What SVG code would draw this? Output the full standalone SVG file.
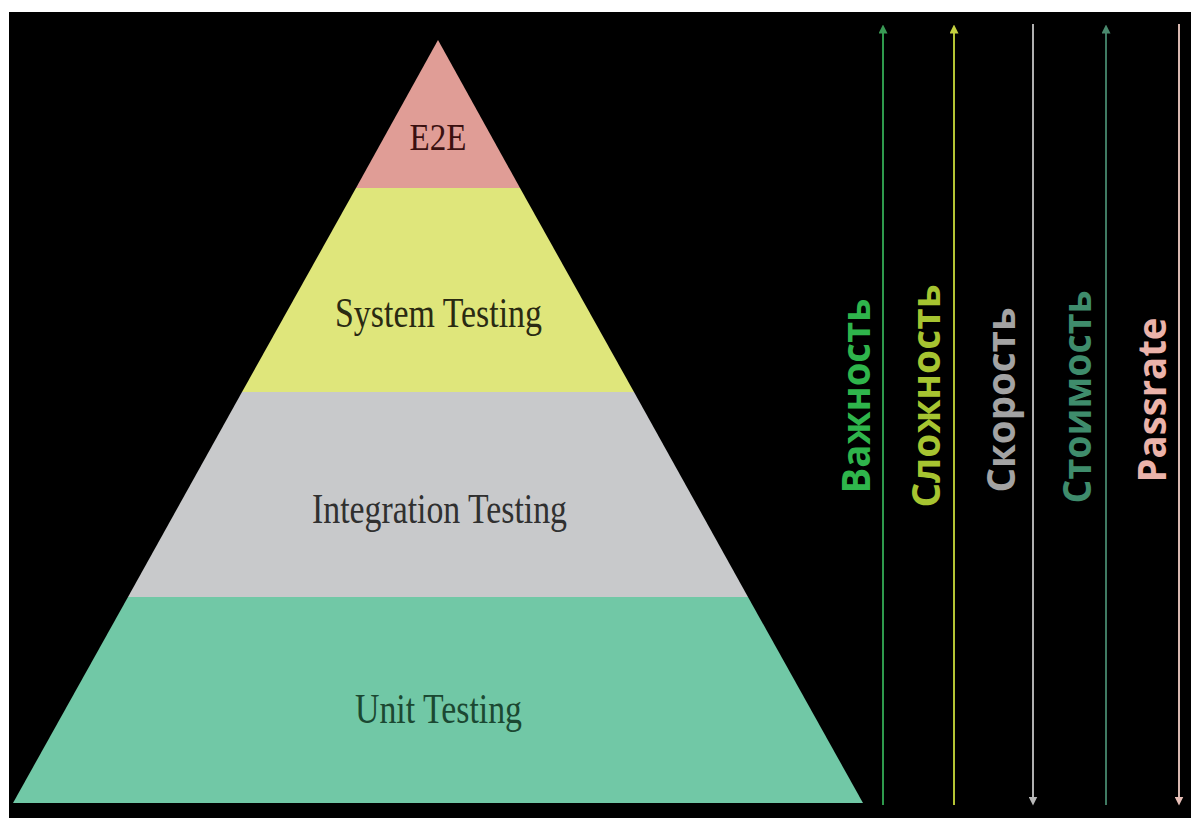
<svg xmlns="http://www.w3.org/2000/svg" width="1191" height="818" viewBox="0 0 1191 818">
  <style>
    .lvl { font-family: "Liberation Serif", "Times New Roman", serif; text-anchor: middle; }
    .axl { font-family: "Open Sans", "DejaVu Sans", sans-serif; font-weight: bold; font-size: 40px; text-anchor: middle; }
    .ax { stroke-width: 2; fill: none; }
  </style>
  <defs>
    <marker id="hGreen" viewBox="0 0 10 10" refX="5" refY="5" markerWidth="4.5" markerHeight="4.5" orient="auto-start-reverse"><path d="M0,0 L10,5 L0,10 z" fill="#3a9a55"/></marker>
    <marker id="hYellow" viewBox="0 0 10 10" refX="5" refY="5" markerWidth="4.5" markerHeight="4.5" orient="auto-start-reverse"><path d="M0,0 L10,5 L0,10 z" fill="#c4d040"/></marker>
    <marker id="hGray" viewBox="0 0 10 10" refX="5" refY="5" markerWidth="4.5" markerHeight="4.5" orient="auto-start-reverse"><path d="M0,0 L10,5 L0,10 z" fill="#b8b8b8"/></marker>
    <marker id="hTeal" viewBox="0 0 10 10" refX="5" refY="5" markerWidth="4.5" markerHeight="4.5" orient="auto-start-reverse"><path d="M0,0 L10,5 L0,10 z" fill="#4a8a6e"/></marker>
    <marker id="hPink" viewBox="0 0 10 10" refX="5" refY="5" markerWidth="4.5" markerHeight="4.5" orient="auto-start-reverse"><path d="M0,0 L10,5 L0,10 z" fill="#e8c0b8"/></marker>
  </defs>
  <rect x="0" y="0" width="1191" height="818" fill="#ffffff"/>
  <rect x="9" y="12" width="1182" height="806" fill="#000000"/>

  <g id="e2e">
    <polygon points="438,40 520,188 356,188" fill="#e09d96"/>
    <text class="lvl" x="438" y="150" font-size="38" textLength="57" lengthAdjust="spacingAndGlyphs" fill="#3a1010">E2E</text>
  </g>
  <g id="system-testing">
    <polygon points="356,188 520,188 634,392 242,392" fill="#dfe67b"/>
    <text class="lvl" x="438.5" y="327" font-size="42" textLength="207" lengthAdjust="spacingAndGlyphs" fill="#2a2a12">System Testing</text>
  </g>
  <g id="integration-testing">
    <polygon points="242,392 634,392 748,597 128,597" fill="#c8c9cb"/>
    <text class="lvl" x="439.5" y="523" font-size="42" textLength="255" lengthAdjust="spacingAndGlyphs" fill="#303030">Integration Testing</text>
  </g>
  <g id="unit-testing">
    <polygon points="128,597 748,597 863,803 13,803" fill="#71c8a6"/>
    <text class="lvl" x="438.5" y="723" font-size="42" textLength="167" lengthAdjust="spacingAndGlyphs" fill="#1b4832">Unit Testing</text>
  </g>

  <g id="connectors">
    <line class="ax" x1="883" y1="805" x2="883" y2="29" stroke="#2e9a4c" marker-end="url(#hGreen)"/>
    <line class="ax" x1="954" y1="805" x2="954" y2="29" stroke="#b4c434" marker-end="url(#hYellow)"/>
    <line class="ax" x1="1033" y1="24" x2="1033" y2="801" stroke="#b0b0b0" marker-end="url(#hGray)"/>
    <line class="ax" x1="1106" y1="805" x2="1106" y2="29" stroke="#3f7a62" marker-end="url(#hTeal)"/>
    <line class="ax" x1="1179" y1="24" x2="1179" y2="801" stroke="#d8b8b0" marker-end="url(#hPink)"/>
  </g>

  <g id="label-vazhnost">
    <text class="axl" transform="translate(870,396) rotate(-90)" textLength="195" lengthAdjust="spacingAndGlyphs" fill="#2fb54c">Важность</text>
  </g>
  <g id="label-slozhnost">
    <text class="axl" transform="translate(940,396) rotate(-90)" textLength="223" lengthAdjust="spacingAndGlyphs" fill="#a6c431">Сложность</text>
  </g>
  <g id="label-skorost">
    <text class="axl" transform="translate(1015,400) rotate(-90)" textLength="185" lengthAdjust="spacingAndGlyphs" fill="#a3a3a3">Скорость</text>
  </g>
  <g id="label-stoimost">
    <text class="axl" transform="translate(1091,397) rotate(-90)" textLength="213" lengthAdjust="spacingAndGlyphs" fill="#3f8c6c">Стоимость</text>
  </g>
  <g id="label-passrate">
    <text class="axl" transform="translate(1166,400) rotate(-90)" textLength="165" lengthAdjust="spacingAndGlyphs" fill="#ebb3aa">Passrate</text>
  </g>
</svg>
